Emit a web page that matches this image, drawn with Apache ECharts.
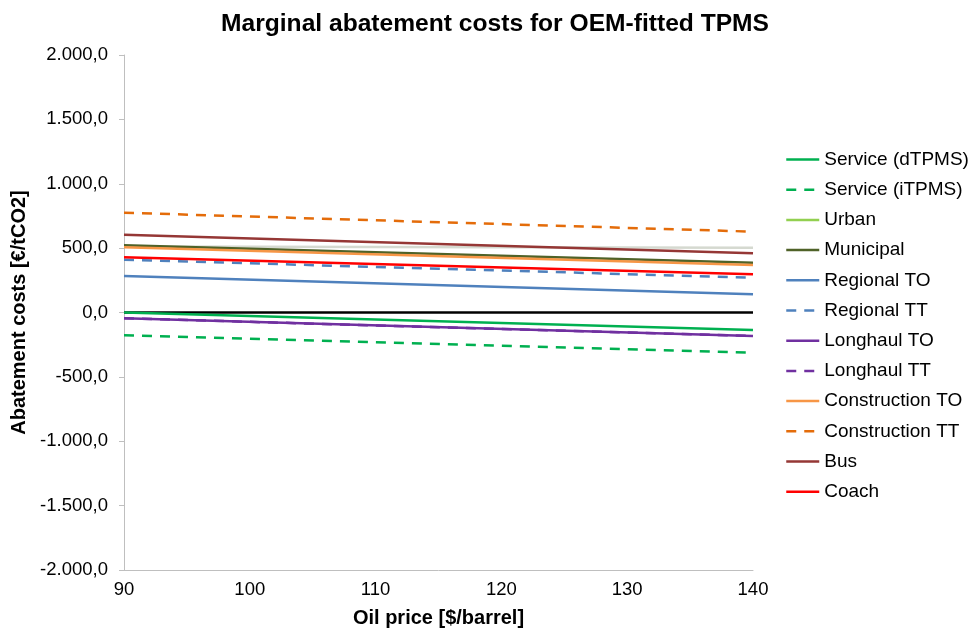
<!DOCTYPE html>
<html>
<head>
<meta charset="utf-8">
<script src="https://cdn.jsdelivr.net/npm/echarts@6/dist/echarts.min.js"></script>
<style>
  html, body { margin: 0; padding: 0; background: #fff; }
  #chart { width: 975px; height: 629px; }
</style>
</head>
<body>
<div id="chart"></div>
<script>
// Oil price scenarios [$/barrel] at which each curve is evaluated
const oilPrices = [90, 140];

// Abatement costs [€/tCO2] per vehicle segment, at 90 and 140 $/barrel
const serviceD       = [0, -136];
const serviceI       = [-177, -312];
const urban          = [512, 503];
const municipal      = [522, 387];
const regionalTO     = [283, 141];
const regionalTT     = [410, 270];
const longhaulTO     = [-45, -183];
const longhaulTT     = [-45, -183];
const constructionTO = [506, 369];
const constructionTT = [775, 628];
const bus            = [604, 460];
const coach          = [429, 297];

// Axis settings
const yTicks = { min: -2000, max: 2000, step: 500 };
const xTicks = { min: 90, max: 140, step: 10 };

const FONT = 'Liberation Sans, Arial, sans-serif';

// German number format: 1.500,0
function fmtDe(v) {
  const parts = Math.abs(v).toFixed(1).split('.');
  const intPart = parts[0].replace(/\B(?=(\d{3})+(?!\d))/g, '.');
  return (v < 0 ? '-' : '') + intPart + ',' + parts[1];
}

const DASH = [10, 8];
const seriesDefs = [
  { name: 'Service (dTPMS)',  data: serviceD,       color: '#00B050', dashed: false },
  { name: 'Service (iTPMS)',  data: serviceI,       color: '#00B050', dashed: true },
  { name: 'Urban',            data: urban,          color: '#92D050', lineColor: '#d5d9d0', dashed: false },
  { name: 'Municipal',        data: municipal,      color: '#4F6228', dashed: false },
  { name: 'Regional TO',      data: regionalTO,     color: '#4F81BD', dashed: false },
  { name: 'Regional TT',      data: regionalTT,     color: '#4F81BD', dashed: true },
  { name: 'Longhaul TO',      data: longhaulTO,     color: '#7030A0', dashed: false },
  { name: 'Longhaul TT',      data: longhaulTT,     color: '#7030A0', dashed: true },
  { name: 'Construction TO',  data: constructionTO, color: '#F79646', dashed: false },
  { name: 'Construction TT',  data: constructionTT, color: '#E46C0A', dashed: true },
  { name: 'Bus',              data: bus,            color: '#953735', dashed: false },
  { name: 'Coach',            data: coach,          color: '#FF0000', dashed: false }
];

const series = seriesDefs.map((d, i) => {
  const s = {
    name: d.name,
    type: 'line',
    data: oilPrices.map((p, k) => [p, d.data[k]]),
    symbol: 'none',
    color: d.color,
    lineStyle: { color: d.lineColor || d.color, width: 2.5, type: d.dashed ? DASH : 'solid' },
    animation: false,
    z: 3
  };
  if (i === 0) {
    // zero reference line across the plot
    s.markLine = {
      silent: true,
      symbol: 'none',
      label: { show: false },
      lineStyle: { color: '#000', width: 2.5, type: 'solid' },
      data: [{ yAxis: 0 }],
      z: 2
    };
  }
  return s;
});

const legendData = seriesDefs.map(d => ({
  name: d.name,
  itemStyle: { color: d.color, opacity: 0, borderWidth: 0 },
  lineStyle: { color: d.color, width: 2.5, type: d.dashed ? DASH : 'solid', opacity: 1 }
}));

const chart = echarts.init(document.getElementById('chart'), null, { renderer: 'canvas' });
chart.setOption({
  backgroundColor: '#fff',
  animation: false,
  title: {
    text: 'Marginal abatement costs for OEM-fitted TPMS',
    left: 490,
    textAlign: 'center',
    top: 7,
    textStyle: { fontFamily: FONT, fontSize: 24.6, fontWeight: 'bold', color: '#000' }
  },
  grid: { left: 124, right: 222, top: 55, bottom: 59, containLabel: false, outerBoundsMode: 'none' },
  legend: {
    orient: 'vertical',
    left: 785,
    top: 150,
    padding: 0,
    itemWidth: 33,
    itemHeight: 14,
    itemGap: 11.2,
    data: legendData,
    textStyle: { fontFamily: FONT, fontSize: 19, color: '#000', lineHeight: 19 }
  },
  xAxis: {
    type: 'value',
    min: xTicks.min,
    max: xTicks.max,
    interval: xTicks.step,
    name: 'Oil price [$/barrel]',
    nameLocation: 'middle',
    nameGap: 38,
    nameTextStyle: { fontFamily: FONT, fontSize: 20, fontWeight: 'bold', color: '#000' },
    axisLine: { show: true, onZero: false, lineStyle: { color: '#bfbfbf', width: 1 } },
    axisTick: { show: false },
    splitLine: { show: false },
    axisLabel: { fontFamily: FONT, fontSize: 18.5, color: '#000', margin: 10 }
  },
  yAxis: {
    type: 'value',
    min: yTicks.min,
    max: yTicks.max,
    interval: yTicks.step,
    name: 'Abatement costs [€/tCO2]',
    nameLocation: 'middle',
    nameGap: 88,
    nameTextStyle: { fontFamily: FONT, fontSize: 20, fontWeight: 'bold', color: '#000' },
    axisLine: { show: true, lineStyle: { color: '#bfbfbf', width: 1 } },
    axisTick: { show: true, inside: false, length: 5, lineStyle: { color: '#bfbfbf' } },
    splitLine: { show: false },
    axisLabel: { fontFamily: FONT, fontSize: 18.5, color: '#000', margin: 16, formatter: fmtDe }
  },
  series: series
});
</script>
</body>
</html>
